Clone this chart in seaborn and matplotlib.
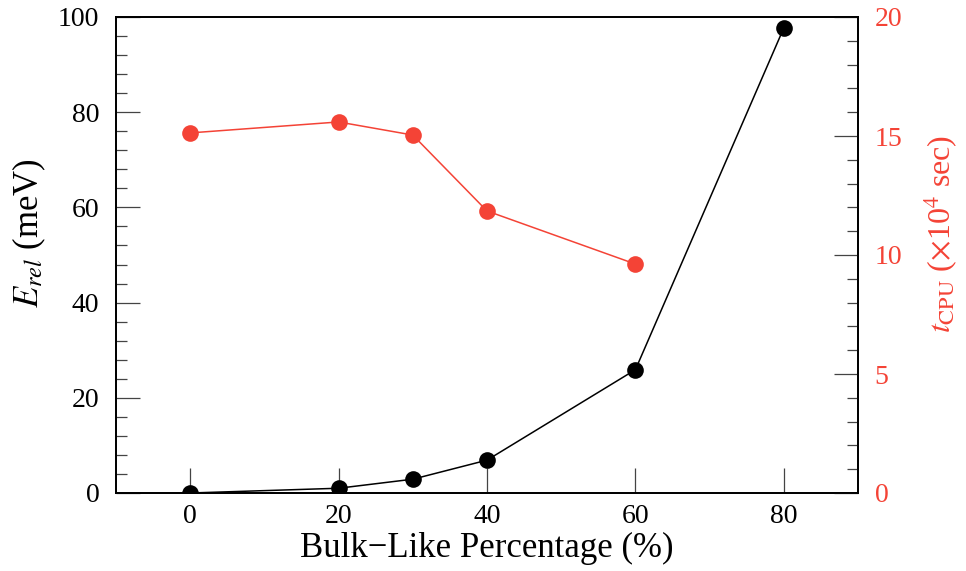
import matplotlib
matplotlib.use("Agg")
import matplotlib.pyplot as plt
import seaborn as sns
import pandas as pd
from matplotlib.ticker import MultipleLocator

sns.set_theme(style="white")
plt.rcParams['font.family'] = ['Liberation Serif', 'DejaVu Serif']
plt.rcParams['mathtext.fontset'] = 'stix'
plt.rcParams['text.color'] = 'black'
plt.rcParams['axes.labelcolor'] = 'black'
plt.rcParams['xtick.color'] = 'black'
plt.rcParams['ytick.color'] = 'black'

x_erel = [0, 20, 30, 40, 60, 80]
erel = [0.0, 1.0, 2.9, 6.9, 25.9, 97.7]
x_cpu = [0, 20, 30, 40, 60]
tcpu = [15.13, 15.59, 15.04, 11.85, 9.62]

red = "#F44336"

fig = plt.figure(figsize=(9.66, 5.71), dpi=100)
ax = fig.add_axes([116/966, 1 - 493/571, (858-116)/966, (493-17)/571])
ax2 = ax.twinx()

df1 = pd.DataFrame({"x": x_erel, "y": erel})
df2 = pd.DataFrame({"x": x_cpu, "y": tcpu})

sns.lineplot(data=df1, x="x", y="y", ax=ax, color="black", linewidth=1.1,
             marker="o", markersize=12, markeredgewidth=0, zorder=3)
sns.lineplot(data=df2, x="x", y="y", ax=ax2, color=red, linewidth=1.1,
             marker="o", markersize=12, markeredgewidth=0, zorder=3)

ax.set_xlim(-10, 90)
ax.set_ylim(0, 100)
ax2.set_ylim(0, 20)
ax.set_xticks([0, 20, 40, 60, 80])
ax.set_yticks([0, 20, 40, 60, 80, 100])
ax.yaxis.set_minor_locator(MultipleLocator(4))
ax2.set_yticks([0, 5, 10, 15, 20])
ax2.yaxis.set_minor_locator(MultipleLocator(1))

for a in (ax, ax2):
    for s in a.spines.values():
        s.set_color("black")
        s.set_linewidth(1.3)
        s.set_visible(True)

ax.tick_params(axis='x', which='major', direction='in', length=18, width=0.9,
               color='#444444', labelcolor='black', labelsize=20, pad=8, top=False, bottom=True)
ax.tick_params(axis='y', which='major', direction='in', length=17, width=0.9,
               color='#444444', labelcolor='black', labelsize=20, pad=12, left=True, right=False)
ax.tick_params(axis='y', which='minor', direction='in', length=8, width=0.9,
               color='#444444', left=True, right=False)
ax2.tick_params(axis='y', which='major', direction='in', length=17, width=0.9,
                color='#444444', labelsize=20, labelcolor=red, pad=12, right=True, left=False)
ax2.tick_params(axis='y', which='minor', direction='in', length=8, width=0.9,
                color='#444444', right=True, left=False)

ax.set_xlabel("Bulk\u2212Like Percentage (%)", fontsize=25, labelpad=2, color='black')
ax.set_ylabel(r"$E_{rel}$ (meV)", fontsize=25, color='black')
ax2.set_ylabel(r"$t_{\mathrm{CPU}}$ ($\times$10$^4$ sec)", fontsize=23, color=red)
ax.yaxis.set_label_coords(-0.092, 0.545)
ax2.yaxis.set_label_coords(1.088, 0.545)

fig.savefig("out.png", dpi=100)
